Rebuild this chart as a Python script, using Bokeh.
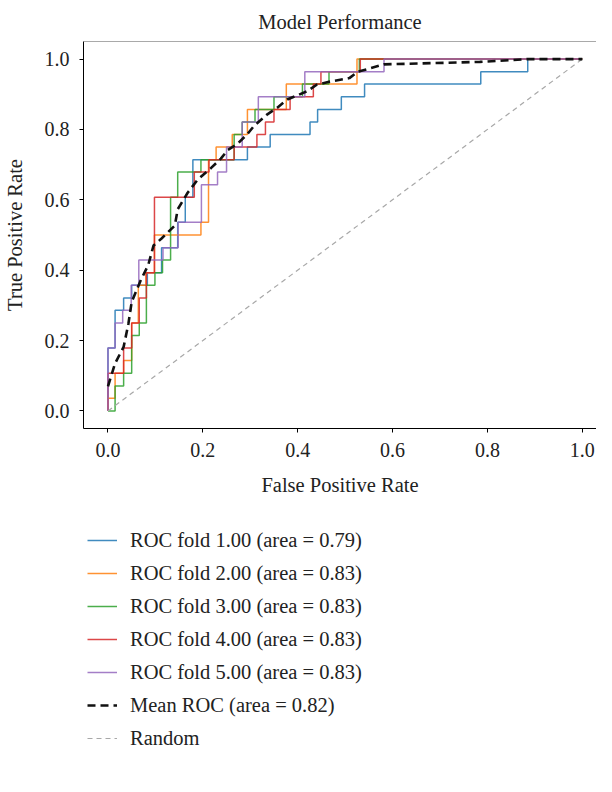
from bokeh.plotting import figure
from bokeh.layouts import column
from bokeh.models import Legend, LegendItem, FixedTicker, PrintfTickFormatter, Span, Range1d
from bokeh.embed import file_html
from bokeh.resources import INLINE

# ---------------- data ----------------
fold_names = ["1.00", "2.00", "3.00", "4.00", "5.00"]
fold_auc = [0.79, 0.83, 0.83, 0.83, 0.83]
mean_auc = 0.82
fold_colors = ["#1f77b4", "#ff7f0e", "#2ca02c", "#d62728", "#9467bd"]

fold1_fpr = [0, 0, 0.015, 0.033, 0.05, 0.083, 0.113, 0.147, 0.163, 0.179, 0.294, 0.342, 0.426, 0.442, 0.492, 0.541, 0.786, 0.885, 1.0]
fold1_tpr = [0, 0.179, 0.286, 0.321, 0.357, 0.393, 0.464, 0.536, 0.607, 0.714, 0.75, 0.786, 0.821, 0.857, 0.893, 0.929, 0.964, 1.0, 1.0]

fold2_fpr = [0, 0, 0.015, 0.033, 0.05, 0.064, 0.08, 0.098, 0.196, 0.212, 0.228, 0.262, 0.294, 0.376, 0.525, 1.0]
fold2_tpr = [0, 0.036, 0.107, 0.143, 0.25, 0.357, 0.393, 0.5, 0.536, 0.714, 0.75, 0.786, 0.857, 0.929, 1.0, 1.0]

fold3_fpr = [0, 0.015, 0.033, 0.05, 0.066, 0.081, 0.099, 0.115, 0.132, 0.147, 0.196, 0.266, 0.283, 0.31, 0.35, 0.41, 0.466, 0.53, 1.0]
fold3_tpr = [0, 0.071, 0.107, 0.214, 0.25, 0.357, 0.393, 0.429, 0.607, 0.679, 0.714, 0.786, 0.821, 0.857, 0.893, 0.929, 0.964, 1.0, 1.0]

fold4_fpr = [0, 0, 0.033, 0.05, 0.066, 0.081, 0.098, 0.182, 0.213, 0.266, 0.314, 0.332, 0.35, 0.384, 0.433, 0.449, 0.532, 1.0]
fold4_tpr = [0, 0.107, 0.179, 0.25, 0.321, 0.393, 0.607, 0.679, 0.714, 0.75, 0.786, 0.821, 0.857, 0.893, 0.929, 0.964, 1.0, 1.0]

fold5_fpr = [0, 0, 0.015, 0.031, 0.049, 0.065, 0.116, 0.148, 0.197, 0.231, 0.25, 0.283, 0.317, 0.415, 0.582, 1.0]
fold5_tpr = [0, 0.179, 0.25, 0.286, 0.357, 0.429, 0.464, 0.536, 0.643, 0.679, 0.75, 0.821, 0.893, 0.964, 1.0, 1.0]

mean_fpr = [0, 0.015, 0.033, 0.043, 0.05, 0.068, 0.085, 0.096, 0.113, 0.141, 0.147, 0.168, 0.189, 0.217,
            0.238, 0.252, 0.273, 0.294, 0.308, 0.336, 0.357, 0.378, 0.419, 0.44, 0.468, 0.509, 0.527,
            0.582, 0.784, 0.885, 1.0]
mean_tpr = [0.07, 0.135, 0.182, 0.247, 0.31, 0.368, 0.415, 0.47, 0.49, 0.527, 0.573, 0.62, 0.657, 0.69,
            0.717, 0.741, 0.759, 0.787, 0.81, 0.843, 0.862, 0.885, 0.908, 0.927, 0.936, 0.946, 0.964,
            0.985, 0.992, 1.0, 1.0]

random_x = [0, 1]
random_y = [0, 1]

tick_values = [0.0, 0.2, 0.4, 0.6, 0.8, 1.0]

folds = [(fold1_fpr, fold1_tpr), (fold2_fpr, fold2_tpr), (fold3_fpr, fold3_tpr),
         (fold4_fpr, fold4_tpr), (fold5_fpr, fold5_tpr)]

FONT = "Liberation Serif"
TXT = "#222222"
FS = "20.5px"

FOLD_STYLE = dict(line_width=1.5, line_alpha=0.85)
MEAN_STYLE = dict(line_color="#111111", line_width=2.6, line_dash="8 5")
RAND_STYLE = dict(line_color="#a8a8a8", line_width=1.2, line_dash="5 4")


def step_path(xs, ys):
    """ROC step path: vertical at each threshold, then horizontal."""
    px, py = [xs[0]], [ys[0]]
    for i in range(1, len(xs)):
        px.append(xs[i]); py.append(ys[i - 1])
        px.append(xs[i]); py.append(ys[i])
    return px, py


# ---------------- main chart ----------------
p = figure(width=596, height=504, x_range=(-0.0516, 1.03), y_range=(-0.05, 1.05),
           output_backend="svg", toolbar_location=None,
           min_border_left=78, min_border_right=0, min_border_top=34, min_border_bottom=76,
           title="Model Performance")
p.outline_line_color = None
p.grid.visible = False
p.background_fill_color = "white"
p.border_fill_color = "white"

p.title.text_font = FONT
p.title.text_font_size = FS
p.title.text_font_style = "normal"
p.title.text_color = TXT
p.title.align = "center"
p.title.text_line_height = 0.6
p.title.standoff = 17

for ax in (p.xaxis, p.yaxis):
    ax.ticker = FixedTicker(ticks=tick_values)
    ax.formatter = PrintfTickFormatter(format="%.1f")
    ax.major_tick_out = 4
    ax.major_tick_in = 0
    ax.minor_tick_line_color = None
    ax.axis_line_color = "black"
    ax.major_tick_line_color = "black"
    ax.major_label_text_font = FONT
    ax.major_label_text_font_size = "20px"
    ax.major_label_text_color = TXT
    ax.major_label_standoff = 10
    ax.axis_label_text_font = FONT
    ax.axis_label_text_font_size = FS
    ax.axis_label_text_font_style = "normal"
    ax.axis_label_text_color = TXT

p.xaxis.axis_label = "False Positive Rate"
p.yaxis.axis_label = "True Positive Rate"
p.xaxis.axis_label_standoff = 14
p.yaxis.axis_label_standoff = 16

p.add_layout(Span(location=1.05, dimension="width", line_color="#555555", line_width=1))

for (fx, fy), col in zip(folds, fold_colors):
    sx, sy = step_path(fx, fy)
    p.line(sx, sy, line_color=col, **FOLD_STYLE)
p.line(random_x, random_y, **RAND_STYLE)
p.line(mean_fpr, mean_tpr, **MEAN_STYLE)

# ---------------- legend panel (below the chart) ----------------
# same left/right borders as the chart so the column keeps both frames aligned;
# the legend proxies carry the same curves, outside this panel's visible range
q = figure(width=596, height=252, x_range=Range1d(5, 6), y_range=Range1d(5, 6),
           output_backend="svg", toolbar_location=None,
           x_axis_location=None, y_axis_location=None,
           min_border_left=78, min_border_right=0, min_border_top=20, min_border_bottom=0)
q.outline_line_color = None
q.grid.visible = False
q.background_fill_color = "white"
q.border_fill_color = "white"

items = []
for (fx, fy), name, auc, col in zip(folds, fold_names, fold_auc, fold_colors):
    sx, sy = step_path(fx, fy)
    r = q.line(sx, sy, line_color=col, **FOLD_STYLE)
    items.append(LegendItem(label=f"ROC fold {name} (area = {auc:.2f})", renderers=[r]))
r_mean = q.line(mean_fpr, mean_tpr, **MEAN_STYLE)
items.append(LegendItem(label=f"Mean ROC (area = {mean_auc:.2f})", renderers=[r_mean]))
r_rand = q.line(random_x, random_y, **RAND_STYLE)
items.append(LegendItem(label="Random", renderers=[r_rand]))

legend = Legend(items=items, location="top_left", orientation="vertical")
legend.label_text_font = FONT
legend.label_text_font_size = FS
legend.label_text_color = TXT
legend.glyph_width = 30
legend.glyph_height = 24
legend.label_height = 24
legend.label_standoff = 13
legend.spacing = 9
legend.padding = 2
legend.margin = 4
legend.border_line_color = None
legend.background_fill_alpha = 0
q.add_layout(legend, "center")

layout = column(p, q, spacing=0)
open("out.html", "w").write(file_html(layout, INLINE))
